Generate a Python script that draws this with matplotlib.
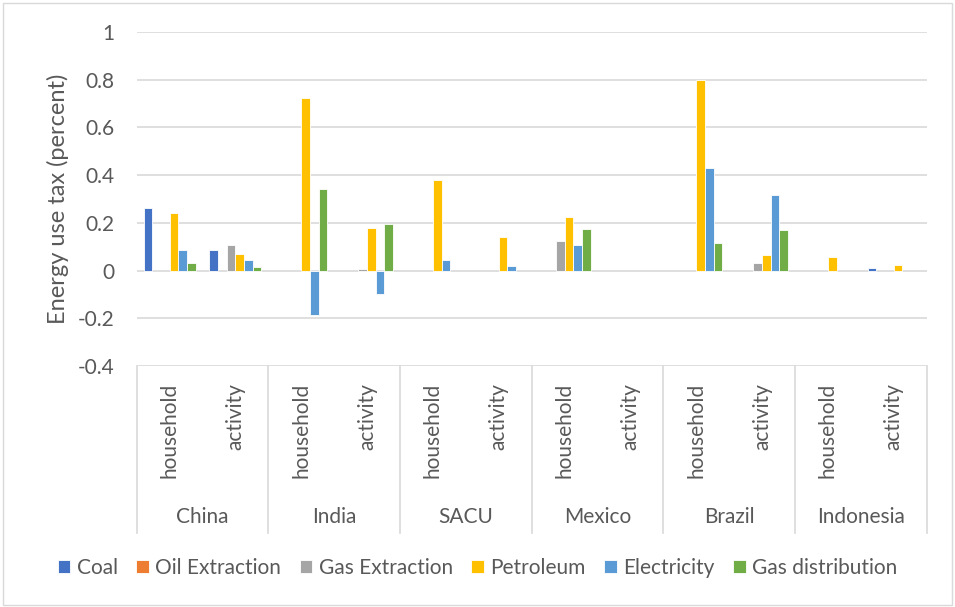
import numpy as np
import matplotlib
matplotlib.use("Agg")
import matplotlib.pyplot as plt
from matplotlib.patches import Rectangle

plt.rcParams['font.family'] = ['Lato', 'DejaVu Sans']

countries = ['China', 'India', 'SACU', 'Mexico', 'Brazil', 'Indonesia']
sectors = ['household', 'activity']
series = ['Coal', 'Oil Extraction', 'Gas Extraction', 'Petroleum',
          'Electricity', 'Gas distribution']
colors = ['#4472C4', '#ED7D31', '#A5A5A5', '#FFC000', '#5B9BD5', '#70AD47']

# values per (country, household/activity)
coal = [0.263, 0.087, 0, 0, 0, 0, 0, 0, 0, 0, 0, 0.01]
oil_extraction = [0, 0, 0, 0, 0, 0, 0, 0, 0, 0, 0, 0]
gas_extraction = [0, 0.108, 0, 0.008, 0, 0, 0.122, 0, 0, 0.031, 0, 0]
petroleum = [0.242, 0.070, 0.725, 0.178, 0.38, 0.141, 0.223, 0, 0.80, 0.067, 0.059, 0.025]
electricity = [0.087, 0.043, -0.186, -0.098, 0.046, 0.018, 0.109, 0, 0.429, 0.315, 0, 0]
gas_distribution = [0.032, 0.017, 0.342, 0.194, 0, 0, 0.175, 0, 0.115, 0.169, 0, 0]

data = [coal, oil_extraction, gas_extraction, petroleum, electricity, gas_distribution]
yticks = [-0.4, -0.2, 0, 0.2, 0.4, 0.6, 0.8, 1]

txt = '#595959'
grid = '#d9d9d9'
fs = 15

fig = plt.figure(figsize=(9.55, 6.07), dpi=100)
fig.patches.append(Rectangle((0.003, 0.003), 0.994, 0.992, transform=fig.transFigure,
                             fill=False, edgecolor=grid, lw=1))
ax = fig.add_axes([0.1431, 0.397, 0.8273, 0.5503])

n = len(countries) * len(sectors)
x = np.arange(n)
w = 0.79 / len(series)
for i, (name, vals) in enumerate(zip(series, data)):
    v = np.array(vals, dtype=float)
    v[v == 0] = np.nan  # empty cells draw nothing
    ax.bar(x + (i - 2.5) * w, v, width=w, color=colors[i], edgecolor='white',
           linewidth=0.6, label=name, zorder=3)

ax.set_xlim(-0.5, n - 0.5)
ax.set_ylim(-0.4, 1)
ax.set_yticks(yticks)
ax.set_yticklabels([f'{t:g}' for t in yticks])
ax.tick_params(axis='y', length=0, pad=16, labelsize=fs, labelcolor=txt)
ax.set_xticks([])
for s in ax.spines.values():
    s.set_visible(False)
ax.grid(axis='y', color=grid, lw=1.2, zorder=0)

# multi-level category axis
tr = ax.get_xaxis_transform()
for b in np.arange(-0.5, n, 2):
    ax.plot([b, b], [0, -0.5], transform=tr, color=grid, lw=1.2, clip_on=False)
for i in range(n):
    ax.text(x[i], -0.05, sectors[i % 2], transform=tr, rotation=90, ha='center',
            va='top', fontsize=fs, color=txt)
for j, c in enumerate(countries):
    ax.text(2 * j + 0.5, -0.452, c, transform=tr, ha='center', va='center',
            fontsize=fs, color=txt)

fig.text(58 / 955, 0.672, 'Energy use tax (percent)', rotation=90, ha='center',
         va='center', fontsize=17, color=txt)

fig.legend(loc='center', bbox_to_anchor=(0.5, 0.064), ncol=6, frameon=False,
           handlelength=0.6, handleheight=0.6, handletextpad=0.3, columnspacing=0.9,
           fontsize=fs, labelcolor=txt)

fig.savefig('out.png', dpi=100)
